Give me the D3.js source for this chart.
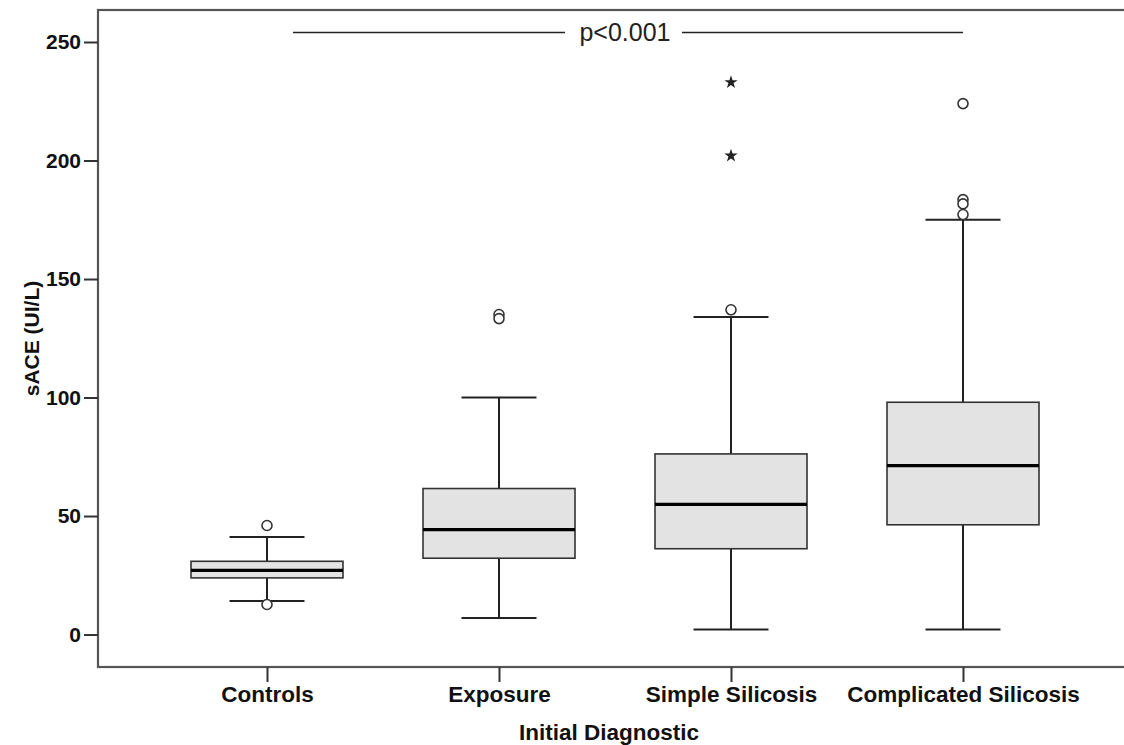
<!DOCTYPE html>
<meta charset="utf-8">
<style>
body { margin: 0; background: #fff; }
svg { font-family: "Liberation Sans", Arial, sans-serif; }
.axis text { font-size: 21px; font-weight: bold; fill: #111; }
.xaxis text { font-size: 22.5px; }
.axis line { stroke: #333; stroke-width: 2px; }
.box { fill: #e3e3e3; stroke: #333; stroke-width: 1.6px; }
.whisker { stroke: #222; stroke-width: 2px; }
.median { stroke: #000; stroke-width: 3.2px; }
.outlier { fill: #fff; stroke: #333; stroke-width: 1.6px; }
</style>
<body>
<script src="https://d3js.org/d3.v7.min.js"></script>
<script>

// data
var categories = ["Controls", "Exposure", "Simple Silicosis", "Complicated Silicosis"];
var q1 = [23.9, 32.2, 36.2, 46.3];
var medians = [27.1, 44.3, 54.9, 71.3];
var q3 = [30.9, 61.6, 76.2, 98.0];
var whiskerLow = [14.1, 7.0, 2.1, 2.1];
var whiskerHigh = [41.1, 100.0, 134.0, 175.0];
var outliers = [[46.0, 12.7], [135.0, 133.3], [137.0], [224.0, 183.5, 181.7, 177.2]];
var extremes = [[], [], [233.0, 202.0], []];
var yTicks = [0, 50, 100, 150, 200, 250];

var W = 1124, H = 745;
// plot frame ("top" is a reserved window property, so keep it in an object)
var frame = {left: 98, top: 10, bottom: 667, right: 1130};

var svg = d3.select("body").append("svg")
    .attr("width", W)
    .attr("height", H);

// scales
var x = d3.scalePoint().domain(categories).range([267, 963]);
var y = d3.scaleLinear().domain([-13.7, 263.5]).range([frame.bottom, frame.top]);
var boxW = 152, capW = 75;

// frame
svg.append("rect")
    .attr("x", frame.left).attr("y", frame.top)
    .attr("width", frame.right - frame.left).attr("height", frame.bottom - frame.top)
    .attr("fill", "none").attr("stroke", "#555").attr("stroke-width", 2.2);

// y axis
var yAxis = svg.append("g")
    .attr("class", "axis")
    .attr("transform", "translate(" + frame.left + ",0)")
    .call(d3.axisLeft(y).tickValues(yTicks).tickSize(14).tickPadding(3));
yAxis.select(".domain").remove();

// x axis
var xAxis = svg.append("g")
    .attr("class", "axis xaxis")
    .attr("transform", "translate(0," + frame.bottom + ")")
    .call(d3.axisBottom(x).tickSize(15).tickPadding(4));
xAxis.select(".domain").remove();

// axis titles
svg.append("text")
    .attr("transform", "translate(" + 39 + "," + ((frame.top + frame.bottom) / 2) + ") rotate(-90)")
    .attr("text-anchor", "middle")
    .style("font-size", "21px").style("font-weight", "bold").style("fill", "#111")
    .text("sACE (UI/L)");

svg.append("text")
    .attr("x", 609).attr("y", 740)
    .attr("text-anchor", "middle")
    .style("font-size", "22.5px").style("font-weight", "bold").style("fill", "#111")
    .text("Initial Diagnostic");

// boxes
var groups = svg.selectAll(".grp")
    .data(categories)
  .enter().append("g")
    .attr("class", "grp");

groups.append("line")
    .attr("class", "whisker")
    .attr("x1", function(d) { return x(d); })
    .attr("x2", function(d) { return x(d); })
    .attr("y1", function(d, i) { return y(whiskerHigh[i]); })
    .attr("y2", function(d, i) { return y(q3[i]); });

groups.append("line")
    .attr("class", "whisker")
    .attr("x1", function(d) { return x(d); })
    .attr("x2", function(d) { return x(d); })
    .attr("y1", function(d, i) { return y(q1[i]); })
    .attr("y2", function(d, i) { return y(whiskerLow[i]); });

groups.append("line")
    .attr("class", "whisker")
    .attr("x1", function(d) { return x(d) - capW / 2; })
    .attr("x2", function(d) { return x(d) + capW / 2; })
    .attr("y1", function(d, i) { return y(whiskerHigh[i]); })
    .attr("y2", function(d, i) { return y(whiskerHigh[i]); });

groups.append("line")
    .attr("class", "whisker")
    .attr("x1", function(d) { return x(d) - capW / 2; })
    .attr("x2", function(d) { return x(d) + capW / 2; })
    .attr("y1", function(d, i) { return y(whiskerLow[i]); })
    .attr("y2", function(d, i) { return y(whiskerLow[i]); });

groups.append("rect")
    .attr("class", "box")
    .attr("x", function(d) { return x(d) - boxW / 2; })
    .attr("width", boxW)
    .attr("y", function(d, i) { return y(q3[i]); })
    .attr("height", function(d, i) { return y(q1[i]) - y(q3[i]); });

groups.append("line")
    .attr("class", "median")
    .attr("x1", function(d) { return x(d) - boxW / 2; })
    .attr("x2", function(d) { return x(d) + boxW / 2; })
    .attr("y1", function(d, i) { return y(medians[i]); })
    .attr("y2", function(d, i) { return y(medians[i]); });

// outliers (circles) and extremes (stars)
groups.each(function(d, i) {
  var g = d3.select(this);
  g.selectAll(".outlier")
      .data(outliers[i])
    .enter().append("circle")
      .attr("class", "outlier")
      .attr("cx", x(d))
      .attr("cy", function(v) { return y(v); })
      .attr("r", 5);
  g.selectAll(".extreme")
      .data(extremes[i])
    .enter().append("path")
      .attr("class", "extreme")
      .attr("transform", function(v) { return "translate(" + x(d) + "," + y(v) + ")"; })
      .attr("d", d3.symbol().type(d3.symbolStar).size(55))
      .attr("fill", "#222");
});

// significance line
var pY = y(254);
var pMid = 625;
svg.append("line")
    .attr("x1", x(categories[0]) + 26).attr("x2", pMid - 60)
    .attr("y1", pY).attr("y2", pY)
    .attr("stroke", "#222").attr("stroke-width", 1.6);
svg.append("line")
    .attr("x1", pMid + 57).attr("x2", x(categories[3]))
    .attr("y1", pY).attr("y2", pY)
    .attr("stroke", "#222").attr("stroke-width", 1.6);
svg.append("text")
    .attr("x", pMid).attr("y", pY + 8)
    .attr("text-anchor", "middle")
    .style("font-size", "25px").style("fill", "#222")
    .text("p<0.001");

</script>
</body>
